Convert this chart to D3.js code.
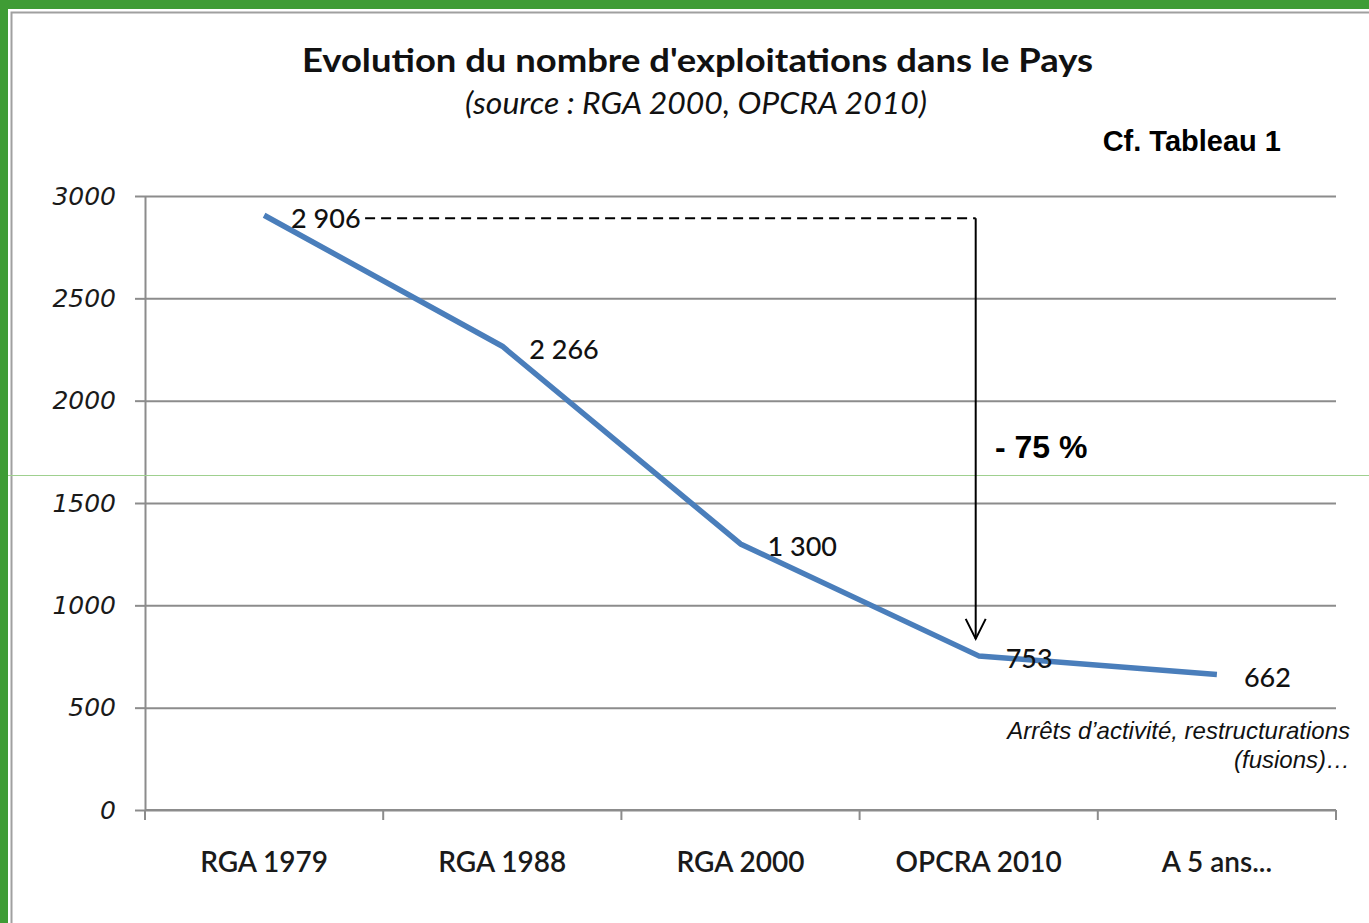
<!DOCTYPE html>
<html>
<head>
<meta charset="utf-8">
<script src="https://cdn.jsdelivr.net/npm/d3@7"></script>
<style>
  html, body { margin: 0; padding: 0; background: #fff; }
  svg { display: block; }
</style>
</head>
<body>
<div id="chart"></div>
<script>
const categories = ["RGA 1979", "RGA 1988", "RGA 2000", "OPCRA 2010", "A 5 ans..."];
const values = [2906, 2266, 1300, 753, 662];
const valueLabels = ["2 906", "2 266", "1 300", "753", "662"];
const yTicks = [0, 500, 1000, 1500, 2000, 2500, 3000];

const width = 1369,
    height = 923,
    margin = ({ top: 196, right: 33, bottom: 113, left: 145 });

const svg = d3.select("#chart")
    .append("svg")
    .attr("width", width)
    .attr("height", height)
    .attr("viewBox", [0, 0, width, height]);

// green frame + inner grey border
svg.append("rect").attr("x", 0).attr("y", 0).attr("width", width).attr("height", height).attr("fill", "#3f9c35");
svg.append("rect").attr("x", 8).attr("y", 9).attr("width", width - 8).attr("height", height - 9).attr("fill", "#fff");
svg.append("path")
    .attr("d", `M11.5,${height} V12.5 H${width}`)
    .attr("fill", "none").attr("stroke", "#a0a0a0").attr("stroke-width", 2);

let x = d3.scaleBand()
    .domain(categories)
    .range([margin.left, width - margin.right]);

let y = d3.scaleLinear()
    .domain([0, 3000])
    .range([height - margin.bottom, margin.top]);

// gridlines + y axis
svg.append("g")
    .attr("transform", `translate(${margin.left},0)`)
    .call(d3.axisLeft(y).tickValues(yTicks).tickFormat(d3.format("d"))
        .tickSize(-(width - margin.right - margin.left)).tickSizeOuter(0).tickPadding(29))
    .call(g => g.select(".domain").attr("stroke", "#8c8c8c").attr("stroke-width", 2))
    .call(g => g.selectAll(".tick line").attr("stroke", "#8c8c8c").attr("stroke-width", 2))
    .call(g => g.selectAll(".tick").append("line")
        .attr("x1", -10).attr("x2", 0).attr("stroke", "#8c8c8c").attr("stroke-width", 2))
    .call(g => g.selectAll(".tick text")
        .attr("font-family", "DejaVu Sans")
        .attr("font-style", "italic")
        .attr("font-size", 25)
        .attr("fill", "#1a1a1a")
        .attr("dy", "0.32em"));

// x axis
const xTickPos = categories.map(c => x(c)).concat([x.range()[1]]);
const xAxis = svg.append("g")
    .attr("transform", `translate(0,${height - margin.bottom})`);
xAxis.append("line")
    .attr("x1", margin.left).attr("x2", width - margin.right)
    .attr("stroke", "#8c8c8c").attr("stroke-width", 2);
xAxis.selectAll(".xt")
    .data(xTickPos)
    .join("line")
    .attr("x1", d => d).attr("x2", d => d)
    .attr("y1", 0).attr("y2", 10)
    .attr("stroke", "#8c8c8c").attr("stroke-width", 2);
xAxis.selectAll("text")
    .data(categories)
    .join("text")
    .attr("x", d => x(d) + x.bandwidth() / 2)
    .attr("y", 62)
    .attr("text-anchor", "middle")
    .attr("font-family", "Lato, 'Open Sans', sans-serif")
    .attr("font-size", 28)
    .attr("font-weight", 600)
    .attr("fill", "#1a1a1a")
    .text(d => d);

// faint scan line
svg.append("line")
    .attr("x1", 8).attr("x2", width).attr("y1", 475.5).attr("y2", 475.5)
    .attr("stroke", "#9fd08f").attr("stroke-width", 1);

// data line
const line = d3.line()
    .x((d, i) => x(categories[i]) + x.bandwidth() / 2)
    .y(d => y(d));

svg.append("path")
    .datum(values)
    .attr("fill", "none")
    .attr("stroke", "#4a7ebb")
    .attr("stroke-width", 5.5)
    .attr("stroke-linejoin", "round")
    .attr("d", line);

svg.append("g")
    .selectAll("text")
    .data(values)
    .join("text")
    .attr("x", (d, i) => x(categories[i]) + x.bandwidth() / 2 + 27)
    .attr("y", d => y(d) + 3)
    .attr("dy", "0.35em")
    .attr("font-family", "Lato, 'Open Sans', sans-serif")
    .attr("font-size", 27)
    .attr("font-weight", 500)
    .attr("fill", "#111")
    .text((d, i) => valueLabels[i]);

// -75% annotation
const xStart = x(categories[0]) + x.bandwidth() / 2;
const xEnd = x(categories[3]) + x.bandwidth() / 2 - 3;
svg.append("line")
    .attr("x1", xStart + 101).attr("x2", xEnd)
    .attr("y1", y(values[0]) + 3).attr("y2", y(values[0]) + 3)
    .attr("stroke", "#000").attr("stroke-width", 2)
    .attr("stroke-dasharray", "10,6");
svg.append("line")
    .attr("x1", xEnd).attr("x2", xEnd)
    .attr("y1", y(values[0]) + 3).attr("y2", y(values[3]) - 17)
    .attr("stroke", "#000").attr("stroke-width", 2);
svg.append("path")
    .attr("d", `M${xEnd - 10},${y(values[3]) - 37} L${xEnd},${y(values[3]) - 17} L${xEnd + 10},${y(values[3]) - 37}`)
    .attr("fill", "none").attr("stroke", "#000").attr("stroke-width", 2);
svg.append("text")
    .attr("x", 995).attr("y", 458)
    .attr("font-family", "Liberation Sans, Arial, sans-serif")
    .attr("font-weight", "bold")
    .attr("font-size", 32)
    .text("- 75 %");

// titles
svg.append("text")
    .attr("x", 302).attr("y", 72)
    .attr("font-family", "Lato, 'Open Sans', sans-serif")
    .attr("font-weight", "bold")
    .attr("font-size", 33)
    .attr("textLength", 791)
    .attr("lengthAdjust", "spacingAndGlyphs")
    .attr("fill", "#111")
    .text("Evolution du nombre d'exploitations dans le Pays");
svg.append("text")
    .attr("x", 465).attr("y", 114)
    .attr("font-family", "Lato, 'Open Sans', sans-serif")
    .attr("font-style", "italic")
    .attr("font-size", 30)
    .attr("textLength", 462)
    .attr("lengthAdjust", "spacingAndGlyphs")
    .attr("fill", "#111")
    .text("(source : RGA 2000, OPCRA 2010)");
svg.append("text")
    .attr("x", 1281).attr("y", 151)
    .attr("text-anchor", "end")
    .attr("font-family", "Liberation Sans, Arial, sans-serif")
    .attr("font-weight", "bold")
    .attr("font-size", 29)
    .text("Cf. Tableau 1");

svg.append("text")
    .attr("text-anchor", "end")
    .attr("font-family", "Liberation Sans, Arial, sans-serif")
    .attr("font-style", "italic")
    .attr("font-size", 24)
    .attr("fill", "#111")
    .call(t => t.append("tspan").attr("x", 1350).attr("y", 739).text("Arrêts d’activité, restructurations"))
    .call(t => t.append("tspan").attr("x", 1350).attr("y", 768).text("(fusions)…"));
</script>
</body>
</html>
